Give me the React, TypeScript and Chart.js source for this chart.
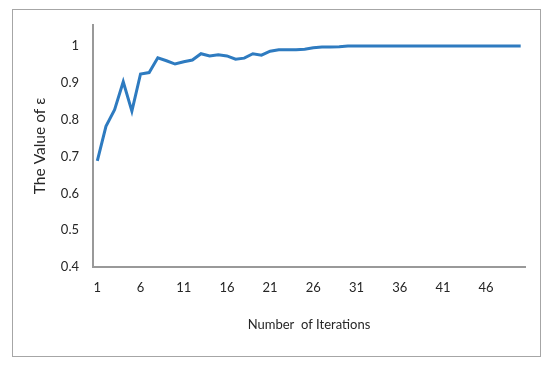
import React, { useEffect, useRef } from "react";
import { Chart, registerables } from "chart.js";

Chart.register(...registerables);

const iterations: string[] = Array.from({ length: 50 }, (_, i) => String(i + 1));
const epsilonValues: number[] = [
  0.688, 0.782, 0.827, 0.903, 0.823, 0.924, 0.928, 0.968, 0.96, 0.951,
  0.957, 0.962, 0.979, 0.973, 0.976, 0.973, 0.964, 0.967, 0.979, 0.975,
  0.986, 0.99, 0.99, 0.99, 0.991, 0.995, 0.997, 0.997, 0.998, 1.0,
  1.0, 1.0, 1.0, 1.0, 1.0, 1.0, 1.0, 1.0, 1.0, 1.0,
  1.0, 1.0, 1.0, 1.0, 1.0, 1.0, 1.0, 1.0, 1.0, 1.0,
];
const yTickValues: number[] = [0.4, 0.5, 0.6, 0.7, 0.8, 0.9, 1.0];
const xTitle = "Number  of Iterations";
const yTitle = "The Value of ε";

export default function App() {
  const canvasRef = useRef<HTMLCanvasElement | null>(null);

  useEffect(() => {
    if (!canvasRef.current) return;
    const family = "Lato, 'Open Sans', sans-serif";
    const font = { family, size: 13 };
    const chart = new Chart(canvasRef.current, {
      type: "line",
      data: {
        labels: iterations,
        datasets: [
          {
            data: epsilonValues,
            borderColor: "#2E7BC0",
            borderWidth: 3,
            pointRadius: 0,
            tension: 0,
            fill: false,
          },
        ],
      },
      options: {
        animation: false,
        responsive: false,
        maintainAspectRatio: false,
        layout: { padding: { left: 0, top: 25, right: 25, bottom: 0 } },
        plugins: { legend: { display: false }, tooltip: { enabled: false } },
        scales: {
          x: {
            type: "category",
            offset: true,
            grid: { display: false, drawTicks: false },
            border: { display: true, color: "#999999", width: 2 },
            ticks: {
              autoSkip: false,
              maxRotation: 0,
              minRotation: 0,
              padding: 13,
              color: "#262626",
              font,
              callback: function (_v: any, idx: number) {
                return idx % 5 === 0 ? iterations[idx] : "";
              },
            },
            title: {
              display: true,
              text: xTitle,
              color: "#262626",
              font,
              padding: { top: 0, bottom: 34 },
            },
            afterFit: (scale: any) => {
              scale.height = 100;
            },
          },
          y: {
            min: 0.4,
            max: 1.057,
            grid: { display: false, drawTicks: false },
            border: { display: true, color: "#999999", width: 2 },
            afterBuildTicks: (scale: any) => {
              scale.ticks = yTickValues.map((v) => ({ value: v }));
            },
            ticks: {
              padding: 14,
              color: "#262626",
              font,
              callback: (v: any) => String(Number(Number(v).toFixed(1))),
            },
            title: {
              display: true,
              text: yTitle,
              color: "#262626",
              font: { family, size: 15.5 },
              padding: { top: 31, bottom: 0 },
            },
            afterFit: (scale: any) => {
              scale.width = 93;
            },
          },
        },
      },
    });
    return () => chart.destroy();
  }, []);

  return (
    <div
      style={{
        position: "fixed",
        left: 0,
        top: 0,
        width: 550,
        height: 367,
        background: "#ffffff",
      }}
    >
      <div
        style={{
          position: "absolute",
          left: 12,
          top: 9,
          width: 529,
          height: 348,
          border: "1.5px solid #a6a6a6",
          boxSizing: "border-box",
        }}
      />
      <canvas
        ref={canvasRef}
        width={550}
        height={367}
        style={{ position: "absolute", left: 0, top: 0, width: 550, height: 367 }}
      />
    </div>
  );
}
